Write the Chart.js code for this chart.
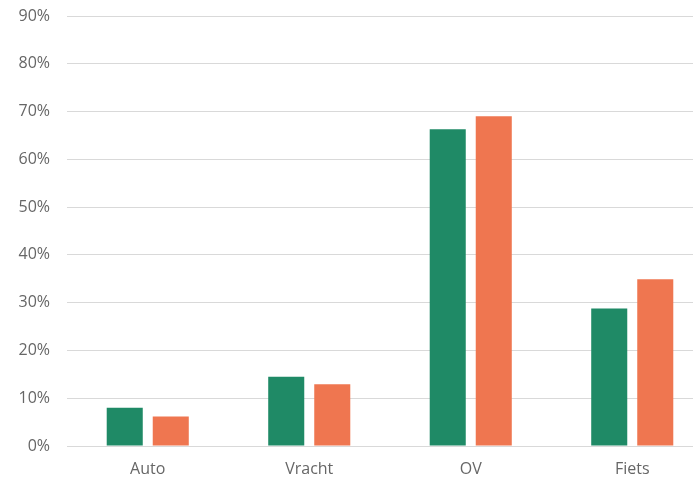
<!DOCTYPE html>
<html>
<head>
<meta charset="utf-8">
<script src="https://cdn.jsdelivr.net/npm/chart.js@4"></script>
<style>
  html, body { margin: 0; padding: 0; background: #fff; overflow: hidden; width: 693px; height: 480px; }
  #wrap { width: 713px; height: 480px; }
</style>
</head>
<body>
<div id="wrap"><canvas id="c" width="713" height="480"></canvas></div>
<script>
const categories = ["Auto", "Vracht", "OV", "Fiets"];
const seriesGreen = [8.0, 14.5, 66.3, 28.8];
const seriesOrange = [6.2, 12.9, 69.0, 34.9];
const yTicks = [0, 10, 20, 30, 40, 50, 60, 70, 80, 90];

const font = { family: "'Open Sans', 'Noto Sans', sans-serif", size: 16 };

new Chart(document.getElementById('c'), {
  type: 'bar',
  data: {
    labels: categories,
    datasets: [
      { label: 'A', data: seriesGreen, backgroundColor: '#1f8a66', categoryPercentage: 0.57, barPercentage: 0.783 },
      { label: 'B', data: seriesOrange, backgroundColor: '#ef7650', categoryPercentage: 0.57, barPercentage: 0.783 }
    ]
  },
  options: {
    responsive: false,
    animation: false,
    layout: { padding: { top: 16, right: 0, left: 0, bottom: 0 } },
    plugins: { legend: { display: false }, tooltip: { enabled: false } },
    scales: {
      x: {
        grid: { display: false, drawTicks: false },
        border: { display: false },
        ticks: { color: '#666666', font: font, padding: 14 },
        afterFit: (s) => { s.height = 34; s.paddingLeft = 0; s.paddingRight = 0; }
      },
      y: {
        min: 0, max: 90,
        afterBuildTicks: (s) => { s.ticks = yTicks.map(v => ({ value: v })); },
        grid: { color: '#d9d9d9', lineWidth: 1, drawTicks: false },
        border: { display: false },
        ticks: { color: '#666666', font: font, padding: 17, callback: (v) => v + '%' },
        afterFit: (s) => { s.width = 67; s.paddingTop = 0; s.paddingBottom = 0; }
      }
    }
  }
});
</script>
</body>
</html>
